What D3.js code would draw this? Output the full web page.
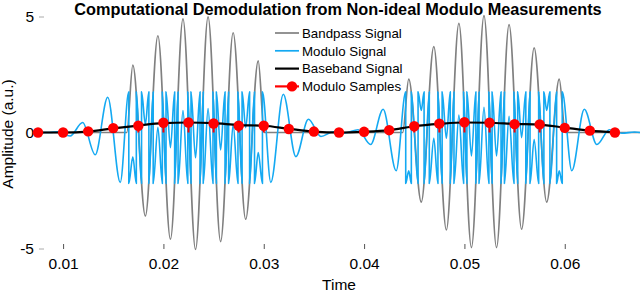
<!DOCTYPE html>
<html><head><meta charset="utf-8">
<script src="https://cdn.jsdelivr.net/npm/d3@7"></script>
<style>html,body{margin:0;padding:0;background:#fff;}svg{display:block;}
text{font-family:"Liberation Sans",Arial,Helvetica,sans-serif;fill:#000;}</style>
</head><body><svg id="c" width="640" height="293"></svg>
<script>
// ---- data ----
const xTicks = [0.01, 0.02, 0.03, 0.04, 0.05, 0.06];
const yTicks = [-5, 0, 5];
const legendLabels = ["Bandpass Signal", "Modulo Signal", "Baseband Signal", "Modulo Samples"];

// Bandpass signal (extrema and endpoints)
const bandT = [0.0075,0.01635,0.01695,0.0182,0.01945,0.0207,0.02195,0.0232,0.02445,0.0257,0.02695,0.0282,0.02945,0.03005,
  0.04385,0.04445,0.0457,0.04695,0.0482,0.04945,0.0507,0.05195,0.0532,0.05445,0.0557,0.05695,0.0582,0.05945,0.06005,0.0675];
const bandV = [0,0,2.9,-3.6,4.17,-4.6,4.9,-5.04,4.98,-4.7,4.3,-3.74,3.09,0,
  0,2.3,-3.0,3.7,-4.2,4.7,-4.96,5.04,-4.96,4.65,-4.17,3.65,-3.0,2.3,0,0];

// Modulo signal (extrema and fold points)
const modT = [0.0075,0.00865,0.00945,0.0107,0.01195,0.0132,0.01445,0.0157,
  0.01655,0.01655,0.01695,0.0173,0.0173,0.01782,0.01782,0.0182,0.01855,0.01855,0.01898,0.01898,0.01945,
  0.01989,0.01989,0.02026,0.02026,0.0207,0.02112,0.02112,0.02146,0.02146,0.02195,
  0.02243,0.02243,0.02275,0.02275,0.0232,0.02365,0.02365,0.02397,0.02397,0.02445,
  0.02494,0.02494,0.02528,0.02528,0.0257,0.02614,0.02614,0.0265,0.0265,0.02695,
  0.02743,0.02743,0.02784,0.02784,0.0282,0.02859,0.02859,0.02908,0.02908,0.02945,
  0.02987,0.02987,0.0307,0.03195,0.0332,0.03445,0.0357,0.03695,
  0.0381,0.0394,0.04065,0.0419,0.0432,
  0.04415,0.04415,0.04445,0.04471,0.04471,0.04538,0.04538,0.0457,0.04598,0.04598,0.0465,0.0465,0.04695,
  0.04736,0.04736,0.04778,0.04778,0.0482,0.04859,0.04859,0.04896,0.04896,0.04945,
  0.04992,0.04992,0.05025,0.05025,0.0507,0.05114,0.05114,0.05146,0.05146,0.05195,
  0.05244,0.05244,0.05276,0.05276,0.0532,0.05365,0.05365,0.05399,0.05399,0.05445,
  0.05494,0.05494,0.05531,0.05531,0.0557,0.05612,0.05612,0.05654,0.05654,0.05695,
  0.0574,0.0574,0.05792,0.05792,0.0582,0.05852,0.05852,0.05919,0.05919,0.05945,
  0.05975,0.05975,0.0607,0.06195,0.0632,0.06445,0.0657,0.06695,0.0675];
const modV = [0,0,0.03,-0.15,0.43,-0.96,1.52,-2.15,
  1.75,-2.2,-1.05,-2.2,1.75,-2.2,1.75,0.35,1.75,-2.2,1.75,-2.2,0.22,
  -2.2,1.75,-2.2,1.75,-0.65,1.75,-2.2,1.75,-2.2,0.95,
  -2.2,1.75,-2.2,1.75,-1.09,1.75,-2.2,1.75,-2.2,1.03,
  -2.2,1.75,-2.2,1.75,-0.75,1.75,-2.2,1.75,-2.2,0.35,
  -2.2,1.75,-2.2,1.75,0.21,1.75,-2.2,1.75,-2.2,-0.86,
  -2.2,1.75,-2.15,1.65,-1.04,0.57,-0.17,0.03,
  -0.02,0.12,-0.52,1.0,-1.65,
  1.75,-2.2,-1.65,-2.2,1.75,-2.2,1.75,0.95,1.75,-2.2,1.75,-2.2,-0.25,
  -2.2,1.75,-2.2,1.75,-0.25,1.75,-2.2,1.75,-2.2,0.75,
  -2.2,1.75,-2.2,1.75,-1.01,1.75,-2.2,1.75,-2.2,1.09,
  -2.2,1.75,-2.2,1.75,-1.01,1.75,-2.2,1.75,-2.2,0.70,
  -2.2,1.75,-2.2,1.75,-0.22,1.75,-2.2,1.75,-2.2,-0.30,
  -2.2,1.75,-2.2,1.75,0.95,1.75,-2.2,1.75,-2.2,-1.65,
  -2.2,1.75,-1.65,1.0,-0.52,0.12,-0.03,0.02,0];

// Modulo samples & baseband
const sampleT = [0.0075,0.01,0.0125,0.015,0.0175,0.02,0.0225,0.025,0.0275,0.03,0.0325,0.035,
  0.0375,0.04,0.0425,0.045,0.0475,0.05,0.0525,0.055,0.0575,0.06,0.0625,0.065];
const sampleV = [0,0,0.05,0.19,0.29,0.42,0.43,0.39,0.29,0.29,0.15,0.04,
  0,0.03,0.1,0.27,0.38,0.44,0.42,0.36,0.35,0.2,0.08,0];
const baseT = sampleT;
const baseV = [0,0,0.04,0.18,0.3,0.4,0.43,0.4,0.32,0.29,0.16,0.04,
  0,0.03,0.1,0.27,0.37,0.43,0.42,0.37,0.34,0.21,0.08,0];

// ---- drawing ----
const colors = {band:"#808080", mod:"#14A9F2", base:"#000000", samp:"#FF0000"};
const svg = d3.select("#c");
const x = d3.scaleLinear().domain([0.0075, 0.0675]).range([38, 640]);
const y = d3.scaleLinear().domain([-5, 5]).range([248.5, 16.5]);

const line = d3.line().x(d => x(d[0])).y(d => y(d[1])).curve(d3.curveMonotoneX);
const zip = (a, b) => a.map((t, i) => [t, b[i]]);

// axes
const gx = svg.append("g").attr("transform", "translate(0,249)")
  .call(d3.axisBottom(x).tickValues(xTicks).tickFormat(d3.format(".2f")).tickSize(-5).tickPadding(9));
gx.select(".domain").remove();
gx.selectAll(".tick line").attr("stroke", "#555");
gx.selectAll("text").attr("font-size", 15.5);

const gy = svg.append("g").attr("transform", "translate(39,0)")
  .call(d3.axisLeft(y).tickValues(yTicks).tickFormat(d => String(d)).tickSize(-5).tickPadding(5));
gy.select(".domain").remove();
gy.selectAll(".tick line").attr("stroke", "#aaa");
gy.selectAll("text").attr("font-size", 15.5);

// series
svg.append("path").attr("d", line(zip(bandT, bandV))).attr("fill", "none")
  .attr("stroke", colors.band).attr("stroke-width", 1.7);
svg.append("path").attr("d", line(zip(modT, modV))).attr("fill", "none")
  .attr("stroke", colors.mod).attr("stroke-width", 1.6).attr("stroke-linejoin", "round");
svg.append("path").attr("d", line(zip(baseT, baseV))).attr("fill", "none")
  .attr("stroke", colors.base).attr("stroke-width", 2.2);
svg.append("g").selectAll("line").data(zip(sampleT, sampleV)).join("line")
  .attr("x1", d => x(d[0])).attr("x2", d => x(d[0]))
  .attr("y1", y(0)).attr("y2", d => y(d[1]))
  .attr("stroke", colors.samp).attr("stroke-width", 2);
svg.append("g").selectAll("circle").data(zip(sampleT, sampleV)).join("circle")
  .attr("cx", d => x(d[0])).attr("cy", d => y(d[1])).attr("r", 5.2).attr("fill", colors.samp);

// labels
svg.append("text").attr("x", 338).attr("y", 14.5).attr("text-anchor", "middle")
  .attr("font-size", 16.3).attr("font-weight", "bold")
  .text("Computational Demodulation from Non-ideal Modulo Measurements");
svg.append("text").attr("x", 339).attr("y", 290).attr("text-anchor", "middle")
  .attr("font-size", 15.5).text("Time");
svg.append("text").attr("transform", "translate(13,134) rotate(-90)").attr("text-anchor", "middle")
  .attr("font-size", 15.5).text("Amplitude (a.u.)");

// legend
const legColors = [colors.band, colors.mod, colors.base, colors.samp];
const lg = svg.append("g");
legendLabels.forEach((lab, i) => {
  const cy = 33 + i * 17.8;
  lg.append("line").attr("x1", 275).attr("x2", 299).attr("y1", cy).attr("y2", cy)
    .attr("stroke", legColors[i]).attr("stroke-width", i >= 2 ? 2.2 : 1.7);
  if (i === 3) lg.append("circle").attr("cx", 292).attr("cy", cy).attr("r", 5.2).attr("fill", colors.samp);
  lg.append("text").attr("x", 302).attr("y", cy + 4.8).attr("font-size", 13.3).text(lab);
});
</script></body></html>
